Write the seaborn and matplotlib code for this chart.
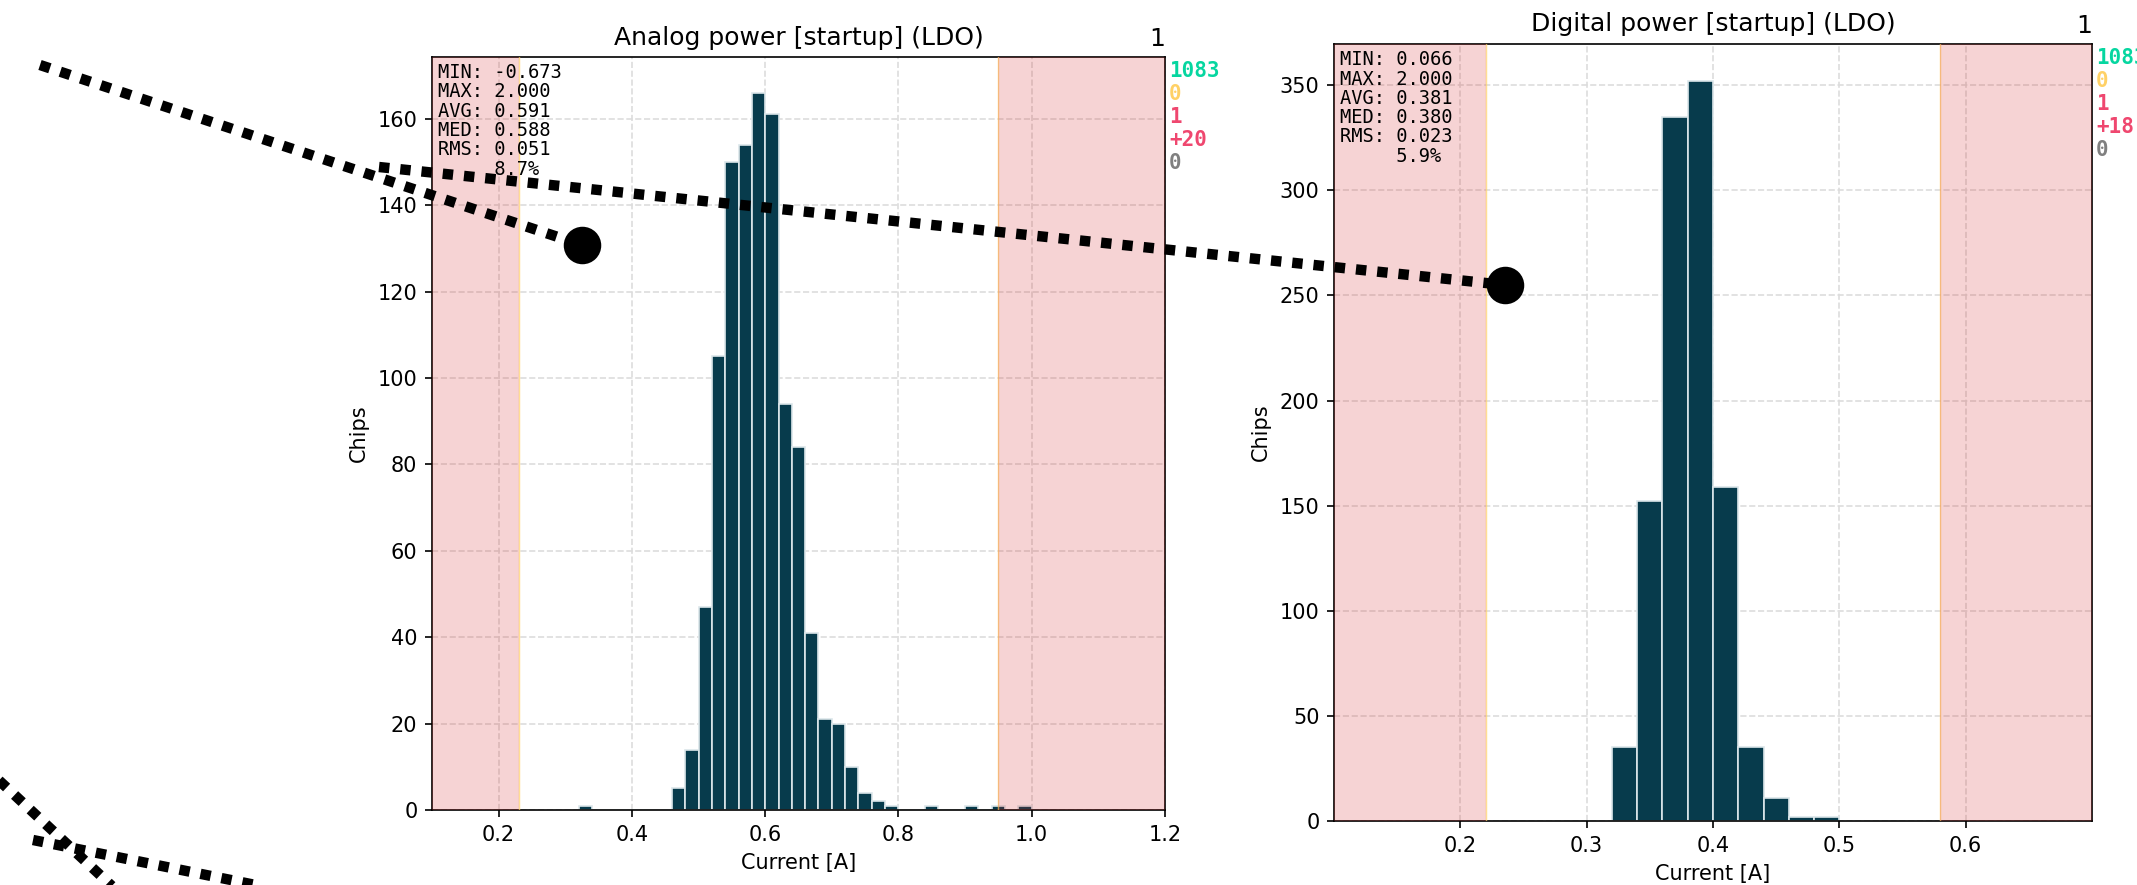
import pandas as pd
import seaborn as sns
import matplotlib.pyplot as plt

# histogram bins (0.02 A wide), given as bin centers + chip counts
analog_centers = [0.33, 0.47, 0.49, 0.51, 0.53, 0.55, 0.57, 0.59, 0.61, 0.63, 0.65,
                  0.67, 0.69, 0.71, 0.73, 0.75, 0.77, 0.79, 0.85, 0.91, 0.95, 0.99]
analog_counts = [1, 5, 14, 47, 105, 150, 154, 166, 161, 94, 84,
                 41, 21, 20, 10, 4, 2, 1, 1, 1, 1, 1]
digital_centers = [0.33, 0.35, 0.37, 0.39, 0.41, 0.43, 0.45, 0.47, 0.49]
digital_counts = [35, 152, 335, 352, 159, 35, 11, 2, 2]

analog_limits = [0.23, 0.95]
digital_limits = [0.22, 0.58]

analog_stats = ["MIN: -0.673", "MAX: 2.000", "AVG: 0.591", "MED: 0.588", "RMS: 0.051", "     8.7%"]
digital_stats = ["MIN: 0.066", "MAX: 2.000", "AVG: 0.381", "MED: 0.380", "RMS: 0.023", "     5.9%"]

analog_summary = ["1083", "0", "1", "+20", "0"]
digital_summary = ["1083", "0", "1", "+18", "0"]
summary_colors = ["#06d6a0", "#ffd166", "#ef476f", "#ef476f", "#808080"]

# dotted overlay strokes (figure pixels), end point gets a dot when flagged
stroke_a_x = [40, 582]
stroke_a_y = [65, 245]
stroke_b_x = [379, 1505]
stroke_b_y = [167, 285]
stroke_c_x = [-10, 130]
stroke_c_y = [772, 903]
stroke_d_x = [33, 320]
stroke_d_y = [840, 898]

W, H, DPI = 2137, 885, 150
fig = plt.figure(figsize=(W / DPI, H / DPI), dpi=DPI)

ax1 = fig.add_axes([432 / W, 1 - 810 / H, 733 / W, 753 / H])
ax2 = fig.add_axes([1334 / W, 1 - 821 / H, 758 / W, 777 / H])


def draw_panel(ax, centers, counts, binrange, limits, xlim, xticks, yticks, title, stats, summary):
    df = pd.DataFrame({"current": centers, "chips": counts})
    sns.histplot(data=df, x="current", weights="chips", binwidth=0.02, binrange=binrange,
                 ax=ax, color="#073b4c", edgecolor="#dce6ea", linewidth=0.8, alpha=1, zorder=2)
    ax.set_xlim(*xlim)
    ax.set_xticks(xticks)
    ax.set_yticks(yticks)
    ax.set_axisbelow(True)
    ax.grid(True, linestyle="--", color="#dddddd", linewidth=0.8)
    # fail regions
    ax.axvline(limits[0], color="#ffd166", lw=0.7, alpha=0.7, zorder=3)
    ax.axvline(limits[1], color="#ffd166", lw=0.7, alpha=0.7, zorder=3)
    ax.axvspan(xlim[0], limits[0], color="tab:red", alpha=0.2, lw=0, zorder=4)
    ax.axvspan(limits[1], xlim[1], color="tab:red", alpha=0.2, lw=0, zorder=4)
    ax.set_title(title, fontsize=12)
    ax.set_xlabel("Current [A]", fontsize=10)
    ax.set_ylabel("Chips", fontsize=10)
    ax.text(0.008, 0.992, "\n".join(stats), transform=ax.transAxes, va="top", ha="left",
            family="DejaVu Sans Mono", fontsize=9, linespacing=1.02, zorder=6)
    ax.text(1.0, 1.008, "1", transform=ax.transAxes, ha="right", va="bottom", fontsize=12)
    for i, (s, c) in enumerate(zip(summary, summary_colors)):
        ax.annotate(s, xy=(1.0, 1.0), xycoords="axes fraction", xytext=(2, -2 - 11 * i),
                    textcoords="offset points", va="top", ha="left", color=c,
                    family="DejaVu Sans Mono", fontweight="bold", fontsize=10,
                    annotation_clip=False)


draw_panel(ax1, analog_centers, analog_counts, (0.32, 1.0),
           analog_limits, (0.1, 1.2), [0.2, 0.4, 0.6, 0.8, 1.0, 1.2], range(0, 161, 20),
           "Analog power [startup] (LDO)", analog_stats, analog_summary)
draw_panel(ax2, digital_centers, digital_counts, (0.32, 0.5),
           digital_limits, (0.1, 0.7), [0.2, 0.3, 0.4, 0.5, 0.6], range(0, 351, 50),
           "Digital power [startup] (LDO)", digital_stats, digital_summary)

# overlay in figure pixels for the dotted strokes
ov = fig.add_axes([0, 0, 1, 1], zorder=10)
ov.set_xlim(0, W)
ov.set_ylim(H, 0)
ov.axis("off")
ov.patch.set_alpha(0)
for xs, ys, dot in [(stroke_a_x, stroke_a_y, True), (stroke_b_x, stroke_b_y, True),
                    (stroke_c_x, stroke_c_y, False), (stroke_d_x, stroke_d_y, False)]:
    ov.plot(xs, ys, linestyle=(0, (1, 1.05)), linewidth=5, color="black", dash_capstyle="butt")
    if dot:
        ov.plot(xs[-1], ys[-1], "o", markersize=17, color="black")

fig.savefig("out.png", dpi=DPI)
